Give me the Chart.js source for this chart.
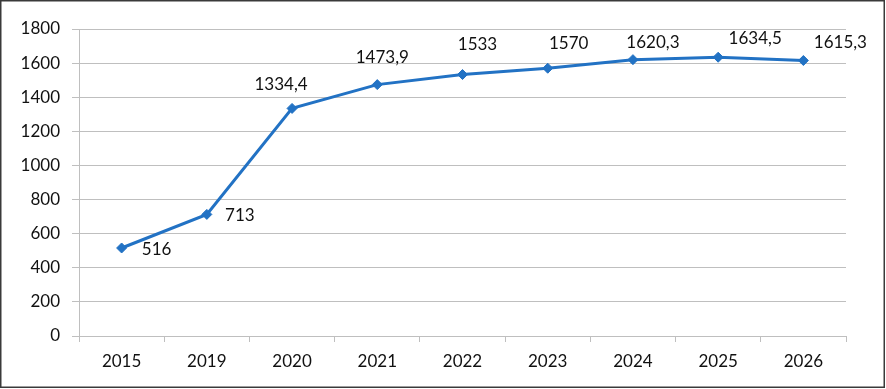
<!DOCTYPE html>
<html>
<head>
<meta charset="utf-8">
<script src="https://cdn.jsdelivr.net/npm/chart.js@4/dist/chart.umd.min.js"></script>
<style>
  html, body { margin: 0; padding: 0; background: #fff; }
  #wrap { width: 886px; height: 389px; position: relative; }
</style>
</head>
<body>
<div id="wrap"><canvas id="c" width="886" height="389"></canvas></div>
<script>
// ---- data ----
const categories = ['2015', '2019', '2020', '2021', '2022', '2023', '2024', '2025', '2026'];
const values = [516, 713, 1334.4, 1473.9, 1533, 1570, 1620.3, 1634.5, 1615.3];
const yTicks = [0, 200, 400, 600, 800, 1000, 1200, 1400, 1600, 1800];

// label placement (style): offset of label centre from its point, in px
const labelOffsets = [[35, 1], [33, 1], [-11, -24], [5, -28], [15, -31], [21, -25], [20, -18], [37, -19], [37, -19]];

const FONT = 'Lato, "Open Sans", sans-serif';
const fmt = v => String(v).replace('.', ',');

const frame = {
  id: 'frame',
  beforeDraw(chart) {
    const ctx = chart.ctx;
    ctx.save();
    ctx.fillStyle = '#fff';
    ctx.fillRect(0, 0, chart.width, chart.height);
    ctx.restore();
  },
  afterDraw(chart) {
    const ctx = chart.ctx;
    ctx.save();
    ctx.strokeStyle = '#3a3a3a';
    ctx.lineWidth = 1.5;
    ctx.strokeRect(0.75, 0.75, 883.5, 386.5);
    ctx.restore();
  }
};

const dataLabels = {
  id: 'dataLabels',
  afterDatasetsDraw(chart) {
    const ctx = chart.ctx;
    const meta = chart.getDatasetMeta(0);
    ctx.save();
    ctx.font = '17px ' + FONT;
    ctx.fillStyle = '#111';
    ctx.textAlign = 'center';
    ctx.textBaseline = 'alphabetic';
    meta.data.forEach((pt, i) => {
      const off = labelOffsets[i];
      ctx.fillText(fmt(values[i]), pt.x + off[0], pt.y + off[1] + 6);
    });
    ctx.restore();
  }
};

new Chart(document.getElementById('c'), {
  type: 'line',
  data: {
    labels: categories,
    datasets: [{
      data: values,
      borderColor: '#2272c4',
      backgroundColor: '#2272c4',
      borderWidth: 3,
      pointStyle: 'rectRot',
      pointRadius: 5,
      pointBorderWidth: 1,
      pointBackgroundColor: '#2272c4',
      pointBorderColor: '#2272c4',
      tension: 0,
      fill: false
    }]
  },
  options: {
    responsive: false,
    animation: false,
    layout: { padding: { left: 0, right: 40, top: 29, bottom: 0 } },
    plugins: { legend: { display: false }, tooltip: { enabled: false } },
    scales: {
      x: {
        offset: true,
        grid: { display: true, drawOnChartArea: false, offset: true, tickLength: 6, color: '#bfbfbf', lineWidth: 1 },
        border: { display: true, color: '#bfbfbf', width: 1 },
        ticks: { color: '#111', font: { family: FONT, size: 17 }, padding: 9, maxRotation: 0, autoSkip: false },
        afterFit(axis) { axis.height = 53; }
      },
      y: {
        min: 0, max: 1800,
        afterBuildTicks(axis) { axis.ticks = yTicks.map(v => ({ value: v })); },
        grid: { color: '#bfbfbf', lineWidth: 1, tickLength: 7 },
        border: { display: true, color: '#bfbfbf', width: 1 },
        ticks: { color: '#111', font: { family: FONT, size: 17 }, padding: 12, callback: v => String(v) },
        afterFit(axis) { axis.width = 79; }
      }
    }
  },
  plugins: [frame, dataLabels]
});
</script>
</body>
</html>
